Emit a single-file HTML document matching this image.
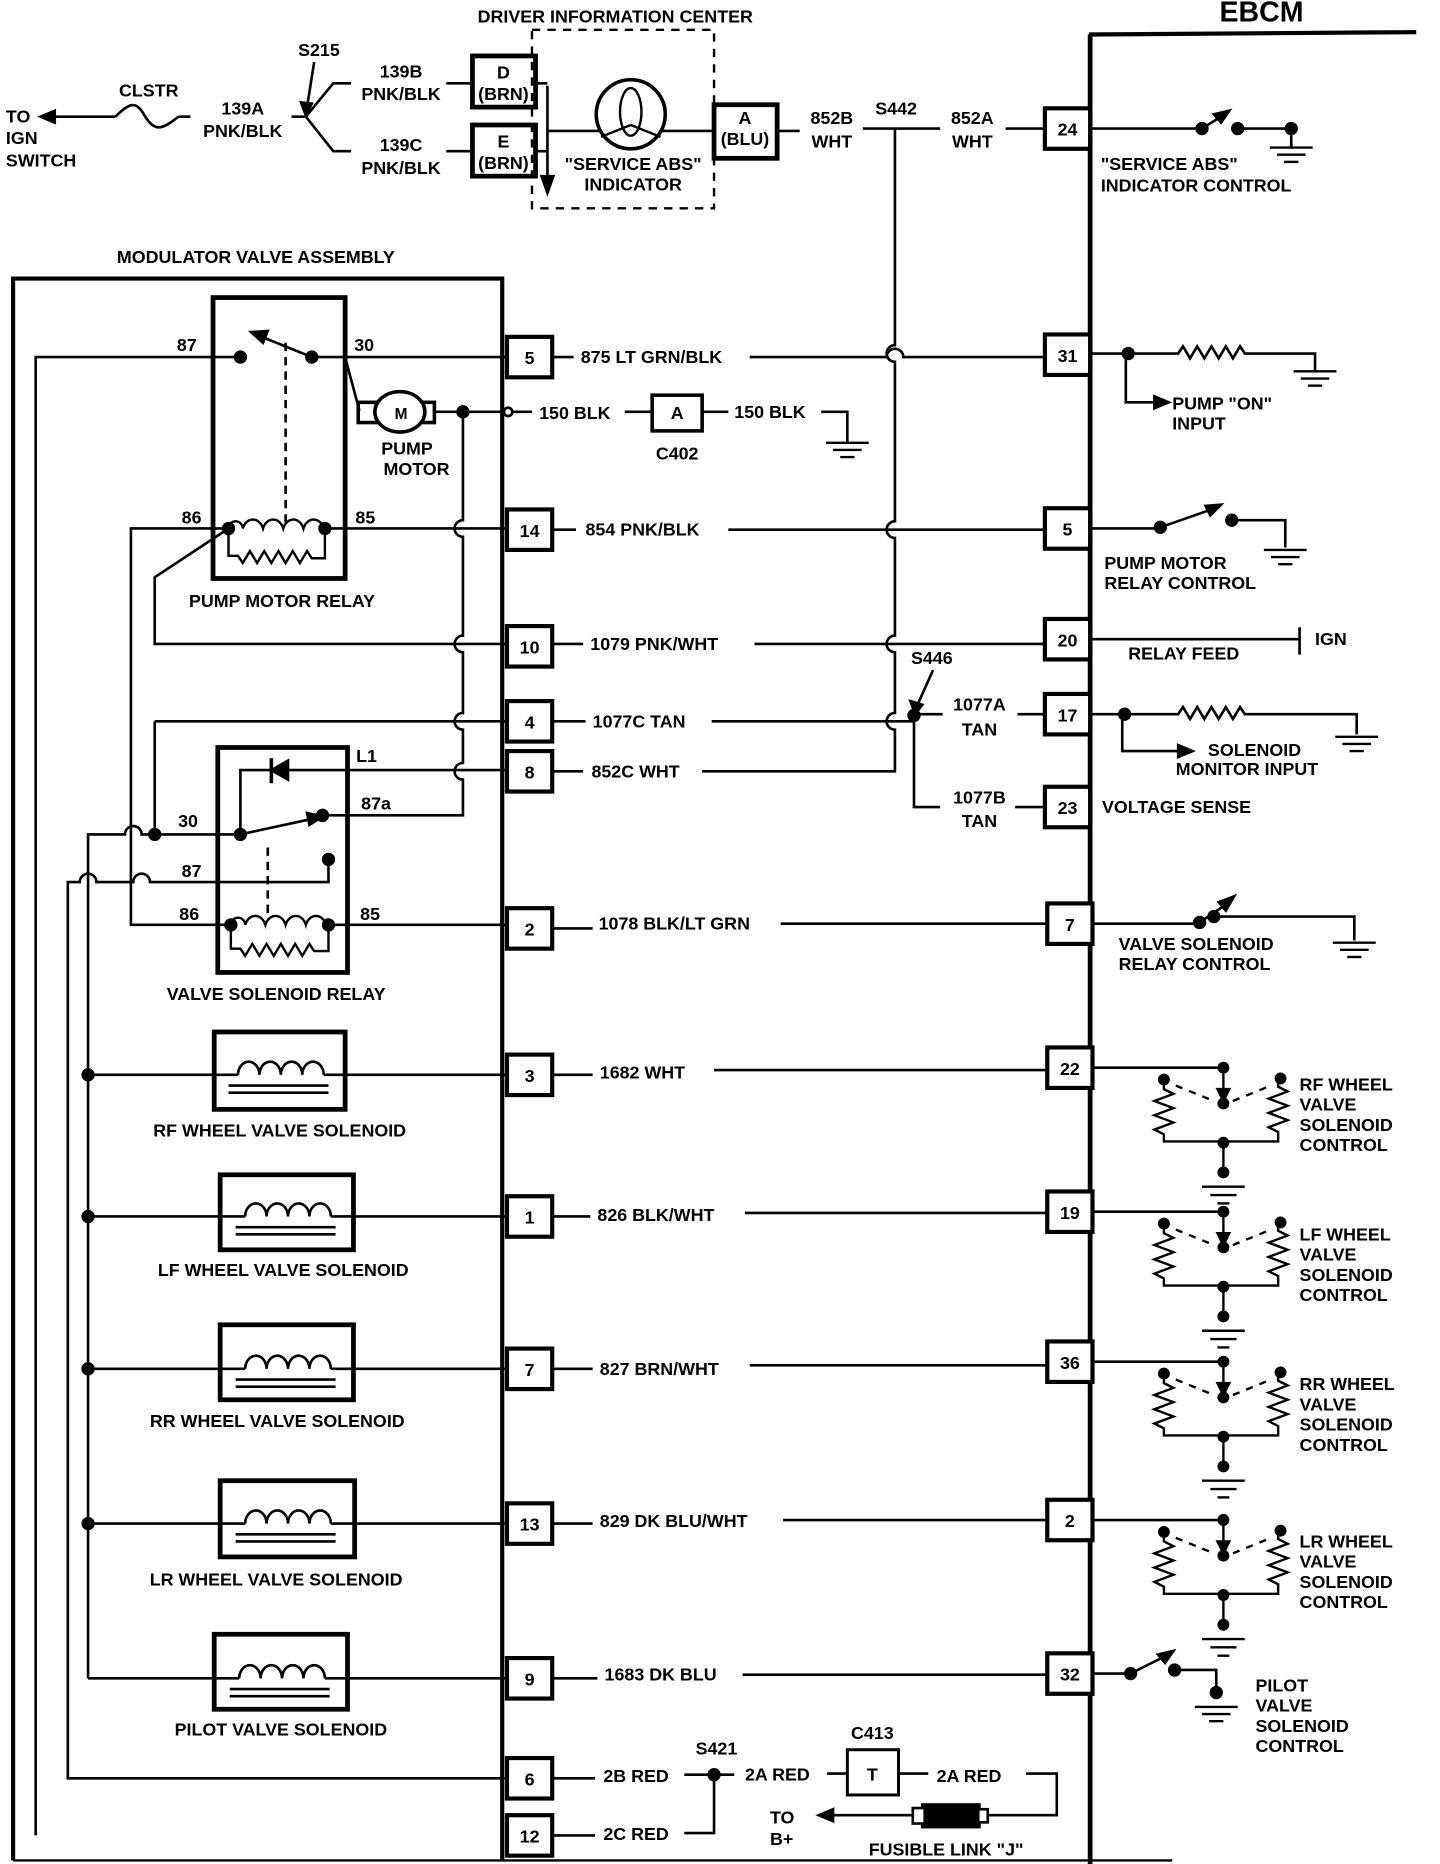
<!DOCTYPE html>
<html><head><meta charset="utf-8"><style>
html,body{margin:0;padding:0;background:#fff;}
svg{display:block}
text{font-family:"Liberation Sans",sans-serif;font-weight:bold;font-size:15px;fill:#000}
</style></head><body>
<svg width="1440" height="1864" viewBox="0 0 1210 1566" preserveAspectRatio="none" xmlns="http://www.w3.org/2000/svg">
<defs>
<g id="ctl" fill="none" stroke="#000" stroke-width="2">
  <line x1="1028" y1="0" x2="1028" y2="22"/>
  <polygon points="1023,18 1033,18 1028,28" fill="#000"/>
  <circle cx="1028" cy="0" r="4" fill="#000"/>
  <circle cx="1028" cy="30" r="4" fill="#000"/>
  <circle cx="978" cy="10" r="4" fill="#000"/>
  <circle cx="1076" cy="9" r="4" fill="#000"/>
  <path d="M978,10 V18 l8,4 -16,6 16,6 -16,6 16,6 -16,6 8,4 V62 H1074 V54 l-8,-4 16,-6 -16,-6 16,-6 -16,-6 16,-6 -8,-4 V9" />
  <path d="M988,15 L1020,28 M1036,28 L1068,15" stroke-dasharray="6,6"/>
  <line x1="1028" y1="62" x2="1028" y2="92"/>
  <circle cx="1028" cy="63" r="4" fill="#000"/>
  <circle cx="1028" cy="88" r="4" fill="#000"/>
  <line x1="1010" y1="100" x2="1046" y2="100"/>
  <line x1="1017" y1="107" x2="1039" y2="107"/>
  <line x1="1023" y1="114" x2="1033" y2="114"/>
</g>
<g id="gnd" stroke="#000" stroke-width="2">
  <line x1="-18" y1="0" x2="18" y2="0"/><line x1="-12" y1="6" x2="12" y2="6"/><line x1="-6" y1="12" x2="6" y2="12"/>
</g>
<g id="sol" fill="none" stroke="#000">
  <path d="M-36,0 a9,11 0 0 1 18,0 a9,11 0 0 1 18,0 a9,11 0 0 1 18,0 a9,11 0 0 1 18,0" stroke-width="2.2"/>
  <line x1="-44" y1="9" x2="40" y2="9" stroke-width="2.2"/>
  <line x1="-44" y1="15" x2="40" y2="15" stroke-width="2.2"/>
</g>
</defs>

<g fill="none" stroke="#000" stroke-width="2.2">
<path d="M915,29 L1190,27" stroke-width="3.5"/>
<path d="M916,29 V1566" stroke-width="4"/>
<path d="M11,1563 V234 H422 V1563" stroke-width="3.5"/>
<path d="M11,1563 H985" stroke-width="2"/>

<line x1="42" y1="98" x2="97" y2="98"/>
<polygon points="34,98 46,93 46,103" fill="#000"/>
<path d="M97,98 C110,85 115,85 122,98 C130,110 135,110 150,98"/>
<line x1="150" y1="98" x2="160" y2="98"/>
<line x1="245" y1="98" x2="257" y2="98"/>
<path d="M257,98 L280,70 H295 M257,98 L280,127 H295"/>
<path d="M264,52 L258,90" /><polygon points="253,86 262,87 257,97" fill="#000"/>
<path d="M375,70 H397 M375,127 H397"/>
<rect x="397" y="47" width="53" height="43" stroke-width="4"/>
<rect x="397" y="105" width="53" height="43" stroke-width="4"/>
<path d="M450,70 H460 M450,127 H460 M460,72 V152"/>
<polygon points="455,148 465,148 460,162" fill="#000"/>
<rect x="447" y="25" width="153" height="150" stroke-dasharray="7,6" stroke-width="2"/>
<line x1="460" y1="110" x2="600" y2="110"/>
<circle cx="530" cy="96" r="29" fill="#fff" stroke-width="3"/>
<ellipse cx="530" cy="94" rx="9" ry="20" stroke-width="2"/>
<path d="M530,105 L505,115 M530,105 L555,115" stroke-width="2"/>
<rect x="600" y="88" width="53" height="45" stroke-width="4"/>
<path d="M653,110 H672 M725,108 H790 M845,108 H878"/>
<path d="M752,108 V290 a7,7 0 0 0 0,14 V438 a7,7 0 0 0 0,14 V534 a7,7 0 0 0 0,14 V599 a7,7 0 0 0 0,14 V648 H590"/>

<g stroke-width="3.5" fill="#fff">
<rect x="426" y="283" width="38" height="34"/><rect x="426" y="428" width="38" height="34"/>
<rect x="426" y="526" width="38" height="34"/><rect x="426" y="589" width="38" height="34"/>
<rect x="426" y="631" width="38" height="34"/><rect x="426" y="763" width="38" height="34"/>
<rect x="426" y="886" width="38" height="34"/><rect x="426" y="1005" width="38" height="34"/>
<rect x="426" y="1133" width="38" height="34"/><rect x="426" y="1263" width="38" height="34"/>
<rect x="426" y="1393" width="38" height="34"/><rect x="426" y="1477" width="38" height="34"/>
<rect x="426" y="1525" width="38" height="34"/>
<rect x="878" y="91" width="38" height="34"/><rect x="878" y="281" width="38" height="34"/>
<rect x="878" y="427" width="38" height="34"/><rect x="878" y="520" width="38" height="34"/>
<rect x="878" y="583" width="38" height="34"/><rect x="878" y="661" width="38" height="34"/>
<rect x="880" y="759" width="38" height="34"/><rect x="880" y="880" width="38" height="34"/>
<rect x="880" y="1001" width="38" height="34"/><rect x="880" y="1127" width="38" height="34"/>
<rect x="880" y="1260" width="38" height="34"/><rect x="880" y="1389" width="38" height="34"/>
</g>

<rect x="179" y="250" width="111" height="236" stroke-width="4"/>
<path d="M30,1542 V300 H202 M262,300 H426"/>
<circle cx="202" cy="300" r="4.5" fill="#000"/><circle cx="262" cy="300" r="4.5" fill="#000"/>
<path d="M262,300 L220,283"/><polygon points="211,279 225,278 221,288" fill="#000"/>
<path d="M240,288 V440" stroke-dasharray="7,5"/>
<path d="M290,300 L302,345"/>
<rect x="301" y="338" width="17" height="17" stroke-width="3"/>
<rect x="348" y="338" width="17" height="17" stroke-width="3"/>
<ellipse cx="336" cy="346" rx="21" ry="17" fill="#fff" stroke-width="3"/>
<path d="M365,346 H422"/><circle cx="389" cy="346" r="4.5" fill="#000"/>
<circle cx="427" cy="346" r="3.5" fill="#fff"/>
<path d="M431,346 H447 M525,346 H548 M590,346 H612 M690,346 H712 V372"/>
<rect x="548" y="332" width="42" height="30" stroke-width="3"/>
<use href="#gnd" x="712" y="372"/>
<path d="M389,346 V437 a7,7 0 0 0 0,14 V534 a7,7 0 0 0 0,14 V599 a7,7 0 0 0 0,14 V641 a7,7 0 0 0 0,14 V685 H271"/>
<path d="M192,444 a6,6 0 0 1 12,0 c3,-10 14,-10 17,0 c3,-10 14,-10 17,0 c3,-10 14,-10 17,0 c3,-10 14,-10 17,0" stroke-width="2"/>
<path d="M192,444 V467 H200 l4,6 6,-10 6,10 6,-10 6,10 6,-10 6,10 6,-10 6,10 6,-10 4,6 H273 V444" stroke-width="2"/>
<circle cx="192" cy="444" r="4.5" fill="#000"/><circle cx="273" cy="444" r="4.5" fill="#000"/>
<path d="M273,444 H426 M192,444 H110 V777 H194"/>
<path d="M192,444 L130,485 V541 H426"/>
<rect x="183" y="628" width="109" height="189" stroke-width="4"/>
<path d="M130,606 H426 M130,606 V701"/>
<path d="M74,1410 V701 H105 a7,7 0 0 1 14,0 H202"/>
<circle cx="130" cy="701" r="4.5" fill="#000"/>
<circle cx="202" cy="701" r="4.5" fill="#000"/><circle cx="271" cy="685" r="4.5" fill="#000"/>
<path d="M202,701 L262,688"/><polygon points="271,686 258,683 260,693" fill="#000"/>
<path d="M202,701 V647 H228 M243,647 H426"/>
<polygon points="228,647 242,639 242,655" fill="#000"/><line x1="228" y1="637" x2="228" y2="658" stroke-width="3"/>
<circle cx="276" cy="722" r="4.5" fill="#000"/>
<path d="M276,722 V741 H126 a7,7 0 0 0 -14,0 H81 a7,7 0 0 0 -14,0 H57 V1494 H426"/>
<path d="M225,712 V770" stroke-dasharray="7,5"/>
<path d="M194,777 a6,6 0 0 1 12,0 c3,-10 14,-10 17,0 c3,-10 14,-10 17,0 c3,-10 14,-10 17,0 c3,-10 14,-10 17,0" stroke-width="2"/>
<path d="M194,777 V797 H202 l4,6 6,-10 6,10 6,-10 6,10 6,-10 6,10 6,-10 6,10 6,-10 4,6 H276 V777" stroke-width="2"/>
<circle cx="194" cy="777" r="4.5" fill="#000"/><circle cx="276" cy="777" r="4.5" fill="#000"/>
<path d="M276,777 H426"/>

<rect x="180" y="867" width="110" height="65" stroke-width="4"/>
<rect x="185" y="987" width="112" height="63" stroke-width="4"/>
<rect x="185" y="1113" width="112" height="63" stroke-width="4"/>
<rect x="185" y="1244" width="113" height="64" stroke-width="4"/>
<rect x="180" y="1373" width="112" height="63" stroke-width="4"/>
<path d="M74,903 H200 M272,903 H426 M74,1022 H206 M278,1022 H426 M74,1150 H206 M278,1150 H426 M74,1280 H206 M278,1280 H426 M74,1410 H201 M273,1410 H426"/>
<circle cx="74" cy="903" r="4.5" fill="#000"/><circle cx="74" cy="1022" r="4.5" fill="#000"/>
<circle cx="74" cy="1150" r="4.5" fill="#000"/><circle cx="74" cy="1280" r="4.5" fill="#000"/>
</g>
<use href="#sol" x="236" y="903"/><use href="#sol" x="242" y="1022"/><use href="#sol" x="242" y="1150"/>
<use href="#sol" x="242" y="1280"/><use href="#sol" x="237" y="1410"/>

<g fill="none" stroke="#000" stroke-width="2.2">
<path d="M464,300 H482 M630,300 H745 a7,7 0 0 1 14,0 H878"/>
<path d="M464,445 H484 M612,445 H878"/>
<path d="M464,541 H490 M634,541 H878"/>
<path d="M464,606 H492 M598,606 H768 M768,600 H792 M855,600 H878"/>
<circle cx="768" cy="601" r="4.5" fill="#000"/>
<path d="M768,601 V678 H790 M853,678 H878"/>
<path d="M784,563 L771,592"/><polygon points="765,589 775,592 769,600" fill="#000"/>
<path d="M464,648 H490"/>
<path d="M464,780 H498 M656,776 H880"/>
<path d="M464,903 H498 M600,899 H880 M464,1022 H496 M626,1019 H880 M464,1150 H498 M630,1147 H880 M464,1280 H498 M658,1277 H880 M464,1410 H502 M624,1407 H880"/>
<path d="M464,1494 H500 M575,1491 H617 M695,1490 H712 M755,1490 H780 M862,1490 H888 V1525 H830"/>
<circle cx="600" cy="1491" r="4.5" fill="#000"/>
<path d="M464,1542 H500 M575,1540 H600 V1491"/>
<rect x="712" y="1470" width="43" height="38" stroke-width="2.5"/>
<rect x="775" y="1516" width="48" height="19" fill="#000"/>
<rect x="767" y="1519" width="10" height="13" fill="#fff"/><rect x="822" y="1520" width="8" height="11" fill="#fff"/>
<path d="M767,1525 H696"/><polygon points="688,1525 700,1520 700,1530" fill="#000"/>

<path d="M916,108 H1010 M1040,108 H1085 V124"/>
<circle cx="1010" cy="108" r="4.5" fill="#000"/><circle cx="1040" cy="108" r="4.5" fill="#000"/><circle cx="1085" cy="108" r="4.5" fill="#000"/>
<path d="M1010,108 L1026,98"/><polygon points="1033,93 1020,96 1026,103" fill="#000"/>
<use href="#gnd" x="1085" y="124"/>

<path d="M916,297 H990 l4,-6 6,10 6,-10 6,10 6,-10 6,10 6,-10 6,10 6,-10 4,6 H1105 V312"/>
<circle cx="948" cy="297" r="4.5" fill="#000"/>
<use href="#gnd" x="1105" y="312"/>
<path d="M946,297 V338 H972"/><polygon points="982,338 970,333 970,343" fill="#000"/>

<path d="M916,444 H975 M1035,437 H1080 V460"/>
<circle cx="975" cy="443" r="4.5" fill="#000"/><circle cx="1035" cy="437" r="4.5" fill="#000"/>
<path d="M975,443 L1018,428"/><polygon points="1026,424 1013,425 1017,433" fill="#000"/>
<use href="#gnd" x="1080" y="462"/>

<path d="M916,537 H1092 M1092,527 V550"/>

<path d="M916,600 H990 l4,-6 6,10 6,-10 6,10 6,-10 6,10 6,-10 6,10 6,-10 4,6 H1140 V617"/>
<circle cx="945" cy="600" r="4.5" fill="#000"/>
<use href="#gnd" x="1140" y="619"/>
<path d="M943,600 V631 H992"/><polygon points="1002,631 990,626 990,636" fill="#000"/>

<path d="M918,776 H1008 M1020,770 H1138 V790"/>
<circle cx="1008" cy="775" r="4.5" fill="#000"/><circle cx="1020" cy="770" r="4.5" fill="#000"/>
<path d="M1008,775 L1030,760"/><polygon points="1037,753 1024,758 1030,765" fill="#000"/>
<use href="#gnd" x="1138" y="792"/>

<path d="M918,897 H1028 M918,1018 H1028 M918,1144 H1028 M918,1277 H1028"/>

<path d="M918,1406 H950 M987,1403 H1022 V1420"/>
<circle cx="950" cy="1406" r="4.5" fill="#000"/><circle cx="987" cy="1403" r="4.5" fill="#000"/>
<path d="M950,1406 L978,1392"/><polygon points="986,1387 973,1390 979,1397" fill="#000"/>
<circle cx="1022" cy="1422" r="4.5" fill="#000"/>
<use href="#gnd" x="1022" y="1434"/>
</g>
<use href="#ctl" x="0" y="897"/><use href="#ctl" x="0" y="1018"/>
<use href="#ctl" x="0" y="1144"/><use href="#ctl" x="0" y="1277"/>

<text x="517" y="19" text-anchor="middle">DRIVER INFORMATION CENTER</text>
<text x="1060" y="18" text-anchor="middle" style="font-size:24px">EBCM</text>
<text x="5" y="103">TO</text><text x="5" y="121">IGN</text><text x="5" y="140">SWITCH</text>
<text x="125" y="81" text-anchor="middle">CLSTR</text>
<text x="204" y="96" text-anchor="middle">139A</text><text x="204" y="115" text-anchor="middle">PNK/BLK</text>
<text x="268" y="47" text-anchor="middle">S215</text>
<text x="337" y="65" text-anchor="middle">139B</text><text x="337" y="84" text-anchor="middle">PNK/BLK</text>
<text x="337" y="127" text-anchor="middle">139C</text><text x="337" y="146" text-anchor="middle">PNK/BLK</text>
<text x="423" y="66" text-anchor="middle">D</text><text x="423" y="84" text-anchor="middle">(BRN)</text>
<text x="423" y="124" text-anchor="middle">E</text><text x="423" y="142" text-anchor="middle">(BRN)</text>
<text x="532" y="143" text-anchor="middle">"SERVICE ABS"</text><text x="532" y="160" text-anchor="middle">INDICATOR</text>
<text x="626" y="104" text-anchor="middle">A</text><text x="626" y="122" text-anchor="middle">(BLU)</text>
<text x="699" y="104" text-anchor="middle">852B</text><text x="699" y="124" text-anchor="middle">WHT</text>
<text x="753" y="96" text-anchor="middle">S442</text>
<text x="817" y="104" text-anchor="middle">852A</text><text x="817" y="124" text-anchor="middle">WHT</text>
<text x="925" y="143">"SERVICE ABS"</text><text x="925" y="161">INDICATOR CONTROL</text>
<text x="215" y="221" text-anchor="middle">MODULATOR VALVE ASSEMBLY</text>

<text x="157" y="295" text-anchor="middle">87</text><text x="306" y="295" text-anchor="middle">30</text>
<text x="337" y="352" text-anchor="middle" style="font-size:13px">M</text>
<text x="342" y="382" text-anchor="middle">PUMP</text><text x="350" y="399" text-anchor="middle">MOTOR</text>
<text x="161" y="440" text-anchor="middle">86</text><text x="307" y="440" text-anchor="middle">85</text>
<text x="237" y="510" text-anchor="middle">PUMP MOTOR RELAY</text>
<text x="308" y="640" text-anchor="middle">L1</text>
<text x="158" y="695" text-anchor="middle">30</text><text x="316" y="680" text-anchor="middle">87a</text>
<text x="161" y="737" text-anchor="middle">87</text>
<text x="159" y="773" text-anchor="middle">86</text><text x="311" y="773" text-anchor="middle">85</text>
<text x="232" y="840" text-anchor="middle">VALVE SOLENOID RELAY</text>
<text x="235" y="955" text-anchor="middle">RF WHEEL VALVE SOLENOID</text>
<text x="238" y="1072" text-anchor="middle">LF WHEEL VALVE SOLENOID</text>
<text x="233" y="1199" text-anchor="middle">RR WHEEL VALVE SOLENOID</text>
<text x="232" y="1332" text-anchor="middle">LR WHEEL VALVE SOLENOID</text>
<text x="236" y="1458" text-anchor="middle">PILOT VALVE SOLENOID</text>

<g text-anchor="middle">
<text x="445" y="306">5</text><text x="445" y="451">14</text><text x="445" y="549">10</text>
<text x="445" y="612">4</text><text x="445" y="654">8</text><text x="445" y="786">2</text>
<text x="445" y="909">3</text><text x="445" y="1028">1</text><text x="445" y="1156">7</text>
<text x="445" y="1286">13</text><text x="445" y="1416">9</text><text x="445" y="1500">6</text>
<text x="445" y="1548">12</text>
<text x="897" y="114">24</text><text x="897" y="304">31</text><text x="897" y="450">5</text>
<text x="897" y="543">20</text><text x="897" y="606">17</text><text x="897" y="684">23</text>
<text x="899" y="782">7</text><text x="899" y="903">22</text><text x="899" y="1024">19</text>
<text x="899" y="1150">36</text><text x="899" y="1283">2</text><text x="899" y="1412">32</text>
</g>

<text x="488" y="305">875 LT GRN/BLK</text>
<text x="453" y="352">150 BLK</text><text x="569" y="352" text-anchor="middle">A</text>
<text x="569" y="386" text-anchor="middle">C402</text><text x="617" y="351">150 BLK</text>
<text x="492" y="450">854 PNK/BLK</text>
<text x="496" y="546">1079 PNK/WHT</text>
<text x="498" y="611">1077C TAN</text>
<text x="497" y="653">852C WHT</text>
<text x="783" y="558" text-anchor="middle">S446</text>
<text x="823" y="597" text-anchor="middle">1077A</text><text x="823" y="618" text-anchor="middle">TAN</text>
<text x="823" y="675" text-anchor="middle">1077B</text><text x="823" y="695" text-anchor="middle">TAN</text>
<text x="503" y="781">1078 BLK/LT GRN</text>
<text x="504" y="906">1682 WHT</text>
<text x="502" y="1026">826 BLK/WHT</text>
<text x="504" y="1155">827 BRN/WHT</text>
<text x="504" y="1283">829 DK BLU/WHT</text>
<text x="508" y="1412">1683 DK BLU</text>
<text x="507" y="1497">2B RED</text>
<text x="602" y="1474" text-anchor="middle">S421</text>
<text x="626" y="1496">2A RED</text>
<text x="733" y="1461" text-anchor="middle">C413</text>
<text x="733" y="1496" text-anchor="middle">T</text>
<text x="787" y="1497">2A RED</text>
<text x="507" y="1546">2C RED</text>
<text x="647" y="1532">TO</text><text x="647" y="1550">B+</text>
<text x="730" y="1559">FUSIBLE LINK "J"</text>

<text x="985" y="344">PUMP "ON"</text><text x="985" y="361">INPUT</text>
<text x="928" y="478">PUMP MOTOR</text><text x="928" y="495">RELAY CONTROL</text>
<text x="948" y="554">RELAY FEED</text><text x="1105" y="542">IGN</text>
<text x="1015" y="635">SOLENOID</text><text x="988" y="651">MONITOR INPUT</text>
<text x="926" y="683">VOLTAGE SENSE</text>
<text x="940" y="798">VALVE SOLENOID</text><text x="940" y="815">RELAY CONTROL</text>
<g>
<text x="1092" y="916">RF WHEEL</text><text x="1092" y="933">VALVE</text><text x="1092" y="950">SOLENOID</text><text x="1092" y="967">CONTROL</text>
<text x="1092" y="1042">LF WHEEL</text><text x="1092" y="1059">VALVE</text><text x="1092" y="1076">SOLENOID</text><text x="1092" y="1093">CONTROL</text>
<text x="1092" y="1168">RR WHEEL</text><text x="1092" y="1185">VALVE</text><text x="1092" y="1202">SOLENOID</text><text x="1092" y="1219">CONTROL</text>
<text x="1092" y="1300">LR WHEEL</text><text x="1092" y="1317">VALVE</text><text x="1092" y="1334">SOLENOID</text><text x="1092" y="1351">CONTROL</text>
</g>
<text x="1055" y="1421">PILOT</text><text x="1055" y="1438">VALVE</text><text x="1055" y="1455">SOLENOID</text><text x="1055" y="1472">CONTROL</text>
</svg>
</body></html>
